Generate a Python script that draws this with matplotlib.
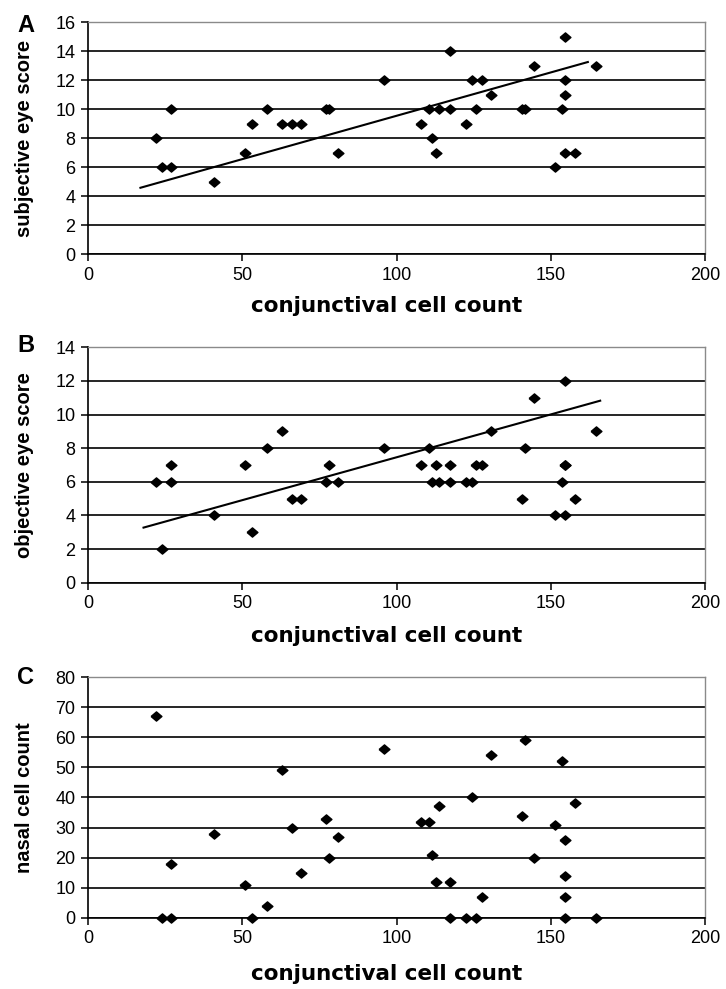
import numpy as np
import matplotlib
matplotlib.use('Agg')
import matplotlib.pyplot as plt

# conjunctival cell count per patient (same order in all three panels)
cell_count = [22, 24, 27, 27, 41, 51, 53, 58, 63, 66, 69, 77, 78, 81, 96,
              108, 110.5, 111.5, 112.7, 113.7, 117.4, 117.4, 122.5, 124.6,
              125.6, 127.7, 130.7, 140.7, 141.6, 144.5, 151.5, 153.5,
              154.7, 154.7, 154.7, 154.7, 157.7, 164.6]

subjective_score = [8, 6, 6, 10, 5, 7, 9, 10, 9, 9, 9, 10, 10, 7, 12,
                    9, 10, 8, 7, 10, 14, 10, 9, 12, 10, 12, 11, 10, 10, 13, 6, 10,
                    15, 12, 11, 7, 7, 13]
objective_score = [6, 2, 7, 6, 4, 7, 3, 8, 9, 5, 5, 6, 7, 6, 8,
                   7, 8, 6, 7, 6, 7, 6, 6, 6, 7, 7, 9, 5, 8, 11, 4, 6,
                   12, 7, 4, 7, 5, 9]
nasal_count = [67, 0, 18, 0, 28, 11, 0, 4, 49, 30, 15, 33, 20, 27, 56,
               32, 32, 21, 12, 37, 12, 0, 0, 40, 0, 7, 54, 34, 59, 20, 31, 52,
               26, 14, 7, 0, 38, 0]

# trend lines as drawn in the figure: (slope, intercept, x start, x end)
trend_a = (0.0598, 3.57, 17, 162)
trend_b = (0.051, 2.36, 18, 166)

x_ticks = [0, 50, 100, 150, 200]

panels = [
    {'letter': 'A', 'ylabel': 'subjective eye score', 'y': subjective_score,
     'ymax': 16, 'ystep': 2, 'trend': trend_a,
     'pos': [0.1212, 0.7429, 0.850, 0.2346], 'letter_y': 25, 'xlab_y': -0.18},
    {'letter': 'B', 'ylabel': 'objective eye score', 'y': objective_score,
     'ymax': 14, 'ystep': 2, 'trend': trend_b,
     'pos': [0.1212, 0.4108, 0.850, 0.2380], 'letter_y': 346, 'xlab_y': -0.184},
    {'letter': 'C', 'ylabel': 'nasal cell count', 'y': nasal_count,
     'ymax': 80, 'ystep': 10, 'trend': None,
     'pos': [0.1212, 0.0721, 0.850, 0.2431], 'letter_y': 678, 'xlab_y': -0.193},
]

W, H = 726, 989
fig = plt.figure(figsize=(W / 100, H / 100), dpi=100)

arial = ['Liberation Sans', 'DejaVu Sans']
diamond = [(-1, 0), (0, 0.85), (1, 0), (0, -0.85), (-1, 0)]

for p in panels:
    ax = fig.add_axes(p['pos'])
    ax.plot(cell_count, p['y'], linestyle='none', marker=diamond, ms=7.8,
            color='black', clip_on=False, zorder=3)
    if p['trend'] is not None:
        slope, icpt, x0, x1 = p['trend']
        tx = np.array([x0, x1])
        ax.plot(tx, slope * tx + icpt, color='black', lw=1.5, zorder=2)

    ax.set_xlim(0, 200)
    ax.set_ylim(0, p['ymax'])
    ax.set_xticks(x_ticks)
    ax.set_yticks(np.arange(0, p['ymax'] + 1, p['ystep']))
    ax.yaxis.grid(True, color='black', lw=1.2)
    ax.set_axisbelow(True)

    for side in ['left', 'bottom']:
        ax.spines[side].set_color('black')
        ax.spines[side].set_linewidth(1.2)
    for side in ['top', 'right']:
        ax.spines[side].set_color('#8a8a8a')
        ax.spines[side].set_linewidth(1.0)

    ax.tick_params(direction='out', length=5, width=1.1, color='black',
                   labelsize=13, pad=4)
    for lab in ax.get_xticklabels() + ax.get_yticklabels():
        lab.set_family(arial)

    ax.set_xlabel('conjunctival cell count', fontsize=15.5, fontweight='bold',
                  family='DejaVu Sans')
    ax.xaxis.set_label_coords(0.484, p['xlab_y'])
    ax.set_ylabel(p['ylabel'], fontsize=14.5, fontweight='bold', family=arial)
    ax.yaxis.set_label_coords(-0.088, 0.5)

    fig.text(26 / W, 1 - p['letter_y'] / H, p['letter'], fontsize=17,
             fontweight='bold', family=arial, ha='center', va='center')

fig.savefig('out.png', dpi=100)
